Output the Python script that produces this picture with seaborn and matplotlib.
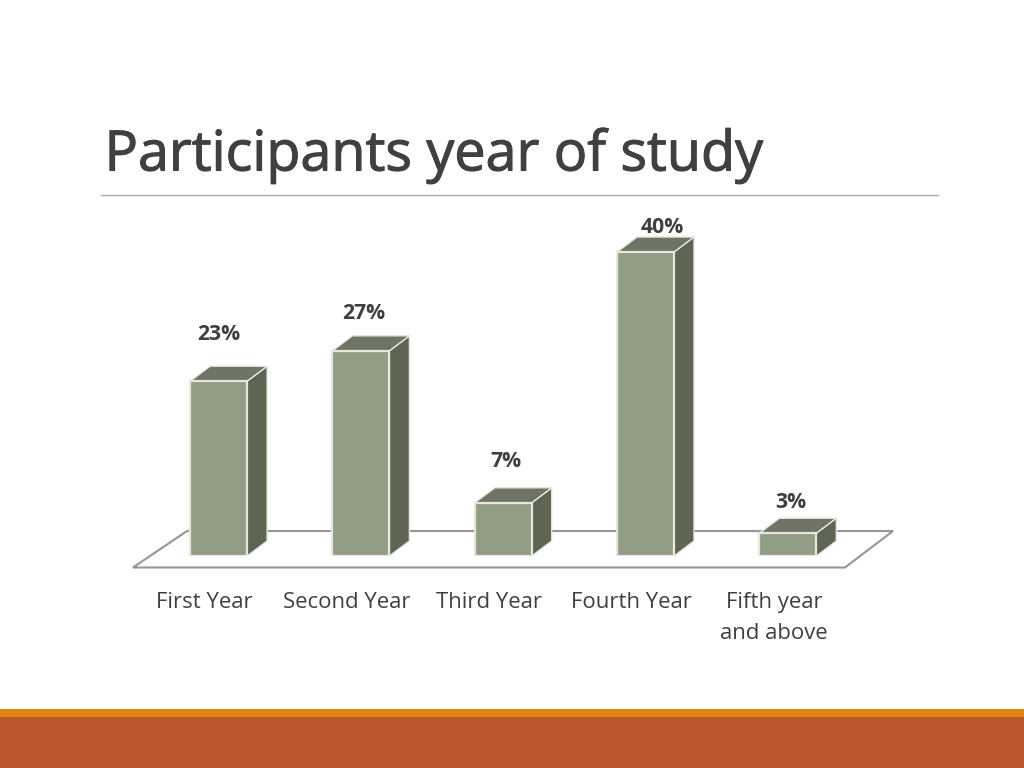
import matplotlib
matplotlib.use("Agg")
import matplotlib.pyplot as plt
import matplotlib.patheffects as pe
from matplotlib.patches import Polygon, Rectangle
import numpy as np
import pandas as pd
import seaborn as sns

categories = ["First Year", "Second Year", "Third Year", "Fourth Year", "Fifth year\nand above"]
percent = [23, 27, 7, 40, 3]
labels = ["23%", "27%", "7%", "40%", "3%"]
label_lift_px = [48, 38, 42, 26, 32]
label_shift_px = [0.5, 3, 2.5, 17, 3]

W, H = 1024, 768
sns.set_theme(style="white")
plt.rcParams["font.family"] = ["Open Sans", "DejaVu Sans"]

FRONT, SIDE, TOP, EDGE = "#919E85", "#5F6553", "#6E7566", "#E6E8DF"
DX, DY = 20, 15  # 3-D depth, pixels

fig = plt.figure(figsize=(W / 100, H / 100), dpi=100, facecolor="white")

# pixel-space layer for the slide furniture
bg = fig.add_axes([0, 0, 1, 1], zorder=0)
bg.set_xlim(0, W)
bg.set_ylim(H, 0)
bg.axis("off")
bg.add_patch(Rectangle((0, 709), W, 8, fc="#DF8511", ec="none"))
bg.add_patch(Rectangle((0, 717), W, 51, fc="#BC582B", ec="none"))
bg.plot([101, 938], [194.5, 194.5], color="#ABABAB", lw=1)
bg.add_patch(Polygon([(133, 567.5), (187, 531), (893, 531), (845, 567.5)],
                     closed=True, fc="white", ec="#969696", lw=1.5))
bg.text(104.5, 170.5, "Participants year of study", fontsize=40.1, color="#404040",
        ha="left", va="baseline", family=["Open Sans", "DejaVu Sans"],
        path_effects=[pe.withStroke(linewidth=0.8, foreground="#404040")])

# chart axes: slot width 142.3 px, 7.6 px per percent, baseline at y=556
left, right, top, base = 147.5, 859, 200, 556
ax = fig.add_axes([left / W, 1 - base / H, (right - left) / W, (base - top) / H], zorder=2)
ax.patch.set_alpha(0)
df = pd.DataFrame({"category": categories, "percent": percent})
sns.barplot(data=df, x="category", y="percent", ax=ax, color=FRONT, width=0.4,
            saturation=1, edgecolor=EDGE, linewidth=1.6, zorder=3)
ax.set_xlim(-0.5, 4.5)
ax.set_ylim(0, (base - top) / 7.6)
ax.set_xlabel("")
ax.set_ylabel("")
ax.set_yticks([])
sns.despine(ax=ax, left=True, bottom=True)

# depth faces derived from the bars themselves
to_px = ax.transData
inv = ax.transData.inverted()
fig.canvas.draw()
for bar, txt, lift, shift in zip(list(ax.patches), labels, label_lift_px, label_shift_px):
    x0, x1 = bar.get_x(), bar.get_x() + bar.get_width()
    h = bar.get_height()
    (px0, py0), (px1, py1) = to_px.transform([(x0, 0), (x1, h)])
    side = [(px1, py0), (px1 + DX, py0 + DY), (px1 + DX, py1 + DY), (px1, py1)]
    roof = [(px0, py1), (px0 + DX, py1 + DY), (px1 + DX, py1 + DY), (px1, py1)]
    for pts, col, z in ((side, SIDE, 2), (roof, TOP, 2)):
        ax.add_patch(Polygon(inv.transform(pts), closed=True, fc=col, ec=EDGE,
                             lw=1.0, zorder=z, clip_on=False))
    lx, ly = inv.transform([((px0 + px1) / 2 + shift, py1 + lift - 1)])[0]
    ax.text(lx, ly, txt, ha="center", va="center", fontsize=15.2,
            fontweight="bold", color="#3F3F3F", clip_on=False)

# category labels sit 14 px left of the bar centres
ax.set_xticks(np.arange(len(categories)) - 14 / 142.3)
ax.set_xticklabels(categories, fontsize=15.9, color="#404040", linespacing=1.62)
ax.tick_params(axis="x", length=0, pad=25.8)

fig.savefig("out.png", dpi=100, facecolor="white")
